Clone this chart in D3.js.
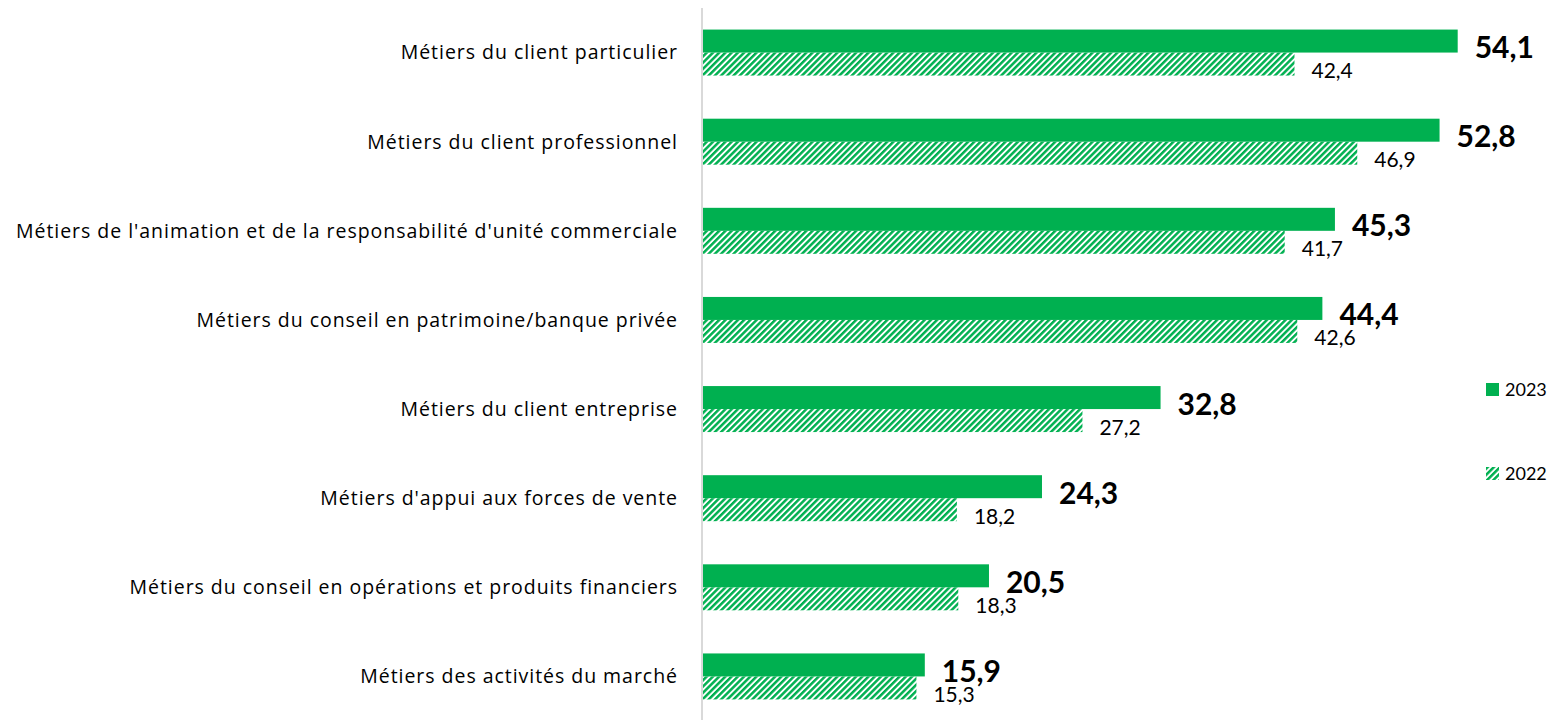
<!DOCTYPE html>
<html>
<head>
<meta charset="utf-8">
<title>Métiers - 2023 vs 2022</title>
<script src="https://d3js.org/d3.v7.min.js"></script>
<style>
	body {
		margin: 0;
		background: #fff;
		font-family: Lato, sans-serif;
	}
	.cat {
		font-family: "Open Sans", sans-serif;
		font-size: 19.5px;
		fill: #000;
	}
	.val23 {
		font-size: 30px;
		font-weight: bold;
	}
	.val22 {
		font-size: 21px;
	}
	.legend text {
		font-size: 18px;
	}
</style>
</head>
<body>
<script>
	var categories = [
		"Métiers du client particulier",
		"Métiers du client professionnel",
		"Métiers de l'animation et de la responsabilité d'unité commerciale",
		"Métiers du conseil en patrimoine/banque privée",
		"Métiers du client entreprise",
		"Métiers d'appui aux forces de vente",
		"Métiers du conseil en opérations et produits financiers",
		"Métiers des activités du marché"
	];
	var years = ["2023", "2022"];
	var values2023 = [54.1, 52.8, 45.3, 44.4, 32.8, 24.3, 20.5, 15.9];
	var values2022 = [42.4, 46.9, 41.7, 42.6, 27.2, 18.2, 18.3, 15.3];

	var width = 1553,
			height = 720,
			green = "#00b050";

	var data = categories.map(function(c, i) {
		return { cat: c, v2023: values2023[i], v2022: values2022[i] };
	});

	var svg = d3.select("body").append("svg")
			.attr("width", width)
			.attr("height", height);

	// hatch pattern for 2022
	var defs = svg.append("defs");
	defs.append("pattern")
			.attr("id", "hatch")
			.attr("patternUnits", "userSpaceOnUse")
			.attr("width", 4.4)
			.attr("height", 4.4)
			.attr("patternTransform", "rotate(45)")
		.append("rect")
			.attr("width", 2.5)
			.attr("height", 4.4)
			.attr("fill", green);

	var x = d3.scaleLinear()
			.domain([0, 60])
			.range([703, 1540]);

	var y = d3.scaleBand()
			.domain(categories)
			.range([8, 721])
			.paddingInner(0.484)
			.paddingOuter(0.242);

	var ySub = d3.scaleBand()
			.domain(years)
			.range([0, y.bandwidth()]);

	var fmt = function(v) { return v.toFixed(1).replace(".", ","); };

	// vertical axis line
	svg.append("line")
			.attr("x1", x(0) - 1)
			.attr("x2", x(0) - 1)
			.attr("y1", 8)
			.attr("y2", height)
			.attr("stroke", "#d9d9d9")
			.attr("stroke-width", 2);

	var groups = svg.selectAll("g.group")
			.data(data)
		.enter().append("g")
			.attr("class", "group")
			.attr("transform", function(d) { return "translate(0," + y(d.cat) + ")"; });

	groups.append("rect")
			.attr("x", x(0))
			.attr("y", ySub("2023"))
			.attr("width", function(d) { return x(d.v2023) - x(0); })
			.attr("height", ySub.bandwidth())
			.attr("fill", green);

	groups.append("rect")
			.attr("x", x(0))
			.attr("y", ySub("2022"))
			.attr("width", function(d) { return x(d.v2022) - x(0); })
			.attr("height", ySub.bandwidth())
			.attr("fill", "url(#hatch)");

	// category labels
	var catLabels = groups.append("text")
			.attr("class", "cat")
			.attr("x", 678)
			.attr("y", y.bandwidth() / 2)
			.attr("dy", "0.35em")
			.attr("text-anchor", "end")
			.text(function(d) { return d.cat; });

	// adjust spacing so the longest label starts near x=16 like the original
	var longest = 0, longestChars = 1;
	catLabels.each(function(d) {
		var w = this.getComputedTextLength();
		if (w > longest) { longest = w; longestChars = d.cat.length; }
	});
	var spacing = (678 - 16 - longest) / longestChars;
	catLabels.style("letter-spacing", spacing + "px");

	// value labels
	groups.append("text")
			.attr("class", "val23")
			.attr("x", function(d) { return x(d.v2023) + 17; })
			.attr("y", ySub("2023") + ySub.bandwidth() / 2 + 17)
			.text(function(d) { return fmt(d.v2023); });

	groups.append("text")
			.attr("class", "val22")
			.attr("x", function(d) { return x(d.v2022) + 17; })
			.attr("y", ySub("2022") + ySub.bandwidth() / 2 + 14)
			.text(function(d) { return fmt(d.v2022); });

	// legend
	var legend = svg.append("g")
			.attr("class", "legend")
			.selectAll("g")
			.data(years)
		.enter().append("g")
			.attr("transform", function(d, i) { return "translate(1486," + (383 + i * 84) + ")"; });

	legend.append("rect")
			.attr("width", 13)
			.attr("height", 13)
			.attr("fill", function(d) { return d === "2023" ? green : "url(#hatch)"; });

	legend.append("text")
			.attr("x", 19)
			.attr("y", 7)
			.attr("dy", "0.35em")
			.text(function(d) { return d; });
</script>
</body>
</html>
